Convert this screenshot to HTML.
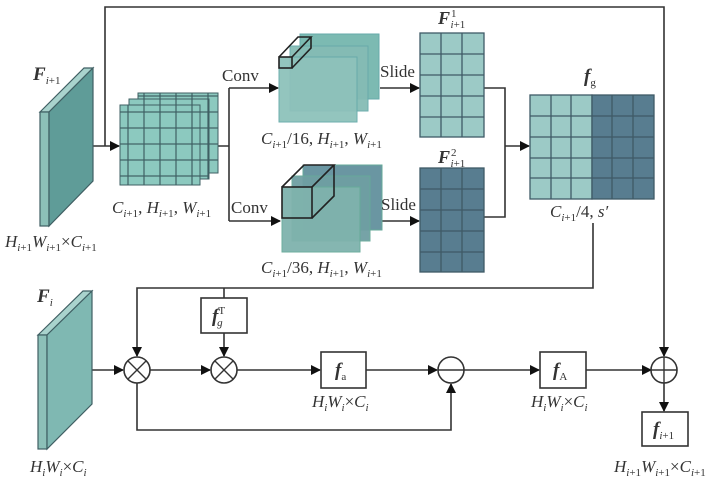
<!DOCTYPE html>
<html><head><meta charset="utf-8"><style>
html,body{margin:0;padding:0;background:#fff;}
svg{display:block;font-family:"Liberation Serif",serif;}
.t{font-size:17px;fill:#333;}
.i{font-style:italic;}
.b{font-weight:bold;font-style:italic;}
.s{font-size:11px;}
</style></head><body>
<svg width="714" height="481" viewBox="0 0 714 481" xmlns="http://www.w3.org/2000/svg">
<defs>
<marker id="a" markerWidth="10" markerHeight="10" refX="9" refY="5" orient="auto" markerUnits="userSpaceOnUse"><path d="M0,0 L10,5 L0,10 z" fill="#111"/></marker>
<pattern id="g16" width="16" height="16" patternUnits="userSpaceOnUse"><rect width="16" height="16" fill="#8cc9bf" stroke="#3f5f63" stroke-width="1.2"/></pattern>
</defs>
<g stroke="#333" stroke-width="1.6" fill="none">
<!-- top line -->
<polyline points="105,146 105,7 664,7 664,356" marker-end="url(#a)"/>
<line x1="93" y1="146" x2="119" y2="146" marker-end="url(#a)"/>
<polyline points="200,146 229,146"/>
<polyline points="229,88 229,221"/>
<line x1="229" y1="88" x2="278" y2="88" marker-end="url(#a)"/>
<line x1="229" y1="221" x2="280" y2="221" marker-end="url(#a)"/>
<line x1="380" y1="88" x2="419" y2="88" marker-end="url(#a)"/>
<line x1="382" y1="221" x2="419" y2="221" marker-end="url(#a)"/>
<polyline points="484,88 505,88 505,217 484,217"/>
<line x1="505" y1="146" x2="529" y2="146" marker-end="url(#a)"/>
<polyline points="593,223 593,288 137,288 137,356" marker-end="url(#a)"/>
<line x1="224" y1="288" x2="224" y2="298"/>
<line x1="224" y1="333" x2="224" y2="356" marker-end="url(#a)"/>
<line x1="92" y1="370" x2="123" y2="370" marker-end="url(#a)"/>
<line x1="150" y1="370" x2="210" y2="370" marker-end="url(#a)"/>
<line x1="237" y1="370" x2="320" y2="370" marker-end="url(#a)"/>
<line x1="366" y1="370" x2="437" y2="370" marker-end="url(#a)"/>
<line x1="464" y1="370" x2="539" y2="370" marker-end="url(#a)"/>
<line x1="586" y1="370" x2="651" y2="370" marker-end="url(#a)"/>
<line x1="664" y1="383" x2="664" y2="411" marker-end="url(#a)"/>
<polyline points="137,383 137,430 451,430 451,384" marker-end="url(#a)"/>
</g>
<!-- F_{i+1} slab -->
<polygon points="40,112 84,68 93,68 49,112" fill="#a9d3cd" stroke="#3f5f63" stroke-width="1.2"/>
<rect x="40" y="112" width="9" height="114" fill="#8cc0b8" stroke="#3f5f63" stroke-width="1.2"/>
<polygon points="49,112 93,68 93,181 49,226" fill="#5f9c98" stroke="#3f5f63" stroke-width="1.2"/>
<!-- F_i slab -->
<polygon points="38,335 83,291 92,291 47,335" fill="#a9d3cd" stroke="#3f5f63" stroke-width="1.2"/>
<rect x="38" y="335" width="9" height="114" fill="#8cc0b8" stroke="#3f5f63" stroke-width="1.2"/>
<polygon points="47,335 92,291 92,404 47,449" fill="#7fb8b2" stroke="#3f5f63" stroke-width="1.2"/>
<!-- grid stack -->
<rect x="138" y="93" width="80" height="80" fill="url(#g16)" stroke="#3f5f63"/>
<rect x="129" y="99" width="80" height="80" fill="url(#g16)" stroke="#3f5f63"/>
<rect x="120" y="105" width="80" height="80" fill="url(#g16)" stroke="#3f5f63"/>
<!-- top cube stack -->
<rect x="300" y="34" width="79" height="65" fill="#7cbab2" stroke="#6aa" stroke-width="1"/>
<rect x="290" y="46" width="78" height="65" fill="#85bcb5" stroke="#6aa" stroke-width="1" opacity="0.95"/>
<rect x="279" y="57" width="78" height="65" fill="#8ec2bb" stroke="#6aa" stroke-width="1" opacity="0.95"/>
<g stroke="#222" stroke-width="1.6" fill="none">
<rect x="279" y="57" width="13" height="11"/>
<polyline points="279,57 298,37 311,37 292,57"/><polyline points="311,37 311,48 292,68"/>
</g>
<!-- bottom cube stack -->
<rect x="303" y="165" width="79" height="65" fill="#6a96a2" stroke="#6a9" stroke-width="1"/>
<rect x="292" y="176" width="78" height="65" fill="#6f9fa3" stroke="#6a9" stroke-width="1" opacity="0.95"/>
<rect x="282" y="187" width="78" height="65" fill="#7fb3ad" stroke="#6a9" stroke-width="1" opacity="0.95"/>
<g stroke="#222" stroke-width="1.6" fill="none">
<rect x="282" y="187" width="30" height="31"/>
<polyline points="282,187 304,165 334,165 312,187"/><polyline points="334,165 334,196 312,218"/>
</g>
<!-- F1 grid -->
<g stroke="#3f5a66" stroke-width="1.3">
<rect x="420" y="33" width="64" height="104" fill="#9ccac6"/>
<rect x="420" y="168" width="64" height="104" fill="#587d90"/>
<rect x="530" y="95" width="62" height="104" fill="#9ccac6"/>
<rect x="592" y="95" width="62" height="104" fill="#587d90"/>
<path d="M441,33V137M462,33V137M420,54H484M420,75H484M420,96H484M420,117H484"/>
<path d="M441,168V272M462,168V272M420,189H484M420,210H484M420,231H484M420,252H484"/>
<path d="M551,95V199M571,95V199M612,95V199M633,95V199M530,116H654M530,137H654M530,158H654M530,178H654"/>
</g>
<!-- boxes -->
<g stroke="#333" stroke-width="1.6" fill="#fff">
<rect x="201" y="298" width="46" height="35"/>
<rect x="321" y="352" width="45" height="36"/>
<rect x="540" y="352" width="46" height="36"/>
<rect x="642" y="412" width="46" height="34"/>
<circle cx="137" cy="370" r="13"/><circle cx="224" cy="370" r="13"/>
<circle cx="451" cy="370" r="13"/><circle cx="664" cy="370" r="13"/>
</g>
<g stroke="#333" stroke-width="1.4">
<path d="M128,361L146,379M146,361L128,379M215,361L233,379M233,361L215,379"/>
<path d="M438,370H464M651,370H677M664,357V383"/>
</g>
<!-- text -->
<g class="t">
<text x="33" y="80" class="b" font-size="19">F<tspan class="s i" font-weight="normal" dy="4">i</tspan><tspan class="s" font-style="normal" font-weight="normal">+1</tspan></text>
<text x="5" y="247" class="i">H<tspan class="s" dy="4">i</tspan><tspan class="s" font-style="normal">+1</tspan><tspan dy="-4">W</tspan><tspan class="s" dy="4">i</tspan><tspan class="s" font-style="normal">+1</tspan><tspan dy="-4" font-style="normal">×</tspan>C<tspan class="s" dy="4">i</tspan><tspan class="s" font-style="normal">+1</tspan></text>
<text x="112" y="213" class="i">C<tspan class="s" dy="4">i</tspan><tspan class="s" font-style="normal">+1</tspan><tspan dy="-4" font-style="normal">, </tspan>H<tspan class="s" dy="4">i</tspan><tspan class="s" font-style="normal">+1</tspan><tspan dy="-4" font-style="normal">, </tspan>W<tspan class="s" dy="4">i</tspan><tspan class="s" font-style="normal">+1</tspan></text>
<text x="222" y="81">Conv</text>
<text x="231" y="213">Conv</text>
<text x="380" y="77">Slide</text>
<text x="381" y="210">Slide</text>
<text x="261" y="144" class="i">C<tspan class="s" dy="4">i</tspan><tspan class="s" font-style="normal">+1</tspan><tspan dy="-4" font-style="normal">/16, </tspan>H<tspan class="s" dy="4">i</tspan><tspan class="s" font-style="normal">+1</tspan><tspan dy="-4" font-style="normal">, </tspan>W<tspan class="s" dy="4">i</tspan><tspan class="s" font-style="normal">+1</tspan></text>
<text x="261" y="273" class="i">C<tspan class="s" dy="4">i</tspan><tspan class="s" font-style="normal">+1</tspan><tspan dy="-4" font-style="normal">/36, </tspan>H<tspan class="s" dy="4">i</tspan><tspan class="s" font-style="normal">+1</tspan><tspan dy="-4" font-style="normal">, </tspan>W<tspan class="s" dy="4">i</tspan><tspan class="s" font-style="normal">+1</tspan></text>
<text x="438" y="24" class="b" font-size="18">F<tspan class="s" font-style="normal" font-weight="normal" dx="1" dy="-7">1</tspan><tspan class="s i" font-weight="normal" dx="-6" dy="11">i</tspan><tspan class="s" font-style="normal" font-weight="normal">+1</tspan></text>
<text x="438" y="163" class="b" font-size="18">F<tspan class="s" font-style="normal" font-weight="normal" dx="1" dy="-7">2</tspan><tspan class="s i" font-weight="normal" dx="-6" dy="11">i</tspan><tspan class="s" font-style="normal" font-weight="normal">+1</tspan></text>
<text x="584" y="82" class="b" font-size="19">f<tspan class="s" font-style="normal" font-weight="normal" dy="4">g</tspan></text>
<text x="550" y="217" class="i">C<tspan class="s" dy="4">i</tspan><tspan class="s" font-style="normal">+1</tspan><tspan dy="-4" font-style="normal">/4, </tspan>s′</text>
<text x="37" y="302" class="b" font-size="19">F<tspan class="s i" font-weight="normal" dy="4">i</tspan></text>
<text x="212" y="322" class="b" font-size="19">f<tspan class="s" font-style="normal" font-weight="normal" dy="-8">T</tspan><tspan class="s i" font-weight="normal" dx="-8" dy="12">g</tspan></text>
<text x="335" y="376" class="b" font-size="19">f<tspan class="s" font-style="normal" font-weight="normal" dy="4">a</tspan></text>
<text x="553" y="376" class="b" font-size="19">f<tspan class="s" font-style="normal" font-weight="normal" dy="4">A</tspan></text>
<text x="653" y="435" class="b" font-size="19">f<tspan class="s i" font-weight="normal" dy="4">i</tspan><tspan class="s" font-style="normal" font-weight="normal">+1</tspan></text>
<text x="312" y="407" class="i">H<tspan class="s" dy="4">i</tspan><tspan dy="-4">W</tspan><tspan class="s" dy="4">i</tspan><tspan dy="-4" font-style="normal">×</tspan>C<tspan class="s" dy="4">i</tspan></text>
<text x="531" y="407" class="i">H<tspan class="s" dy="4">i</tspan><tspan dy="-4">W</tspan><tspan class="s" dy="4">i</tspan><tspan dy="-4" font-style="normal">×</tspan>C<tspan class="s" dy="4">i</tspan></text>
<text x="30" y="472" class="i">H<tspan class="s" dy="4">i</tspan><tspan dy="-4">W</tspan><tspan class="s" dy="4">i</tspan><tspan dy="-4" font-style="normal">×</tspan>C<tspan class="s" dy="4">i</tspan></text>
<text x="614" y="472" class="i">H<tspan class="s" dy="4">i</tspan><tspan class="s" font-style="normal">+1</tspan><tspan dy="-4">W</tspan><tspan class="s" dy="4">i</tspan><tspan class="s" font-style="normal">+1</tspan><tspan dy="-4" font-style="normal">×</tspan>C<tspan class="s" dy="4">i</tspan><tspan class="s" font-style="normal">+1</tspan></text>
</g>
</svg>
</body></html>
